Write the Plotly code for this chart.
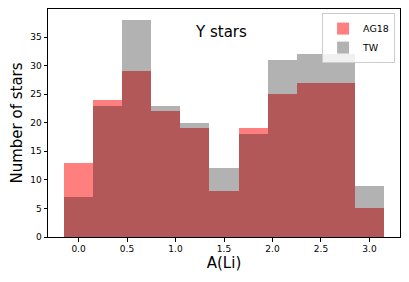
import plotly.graph_objects as go

# bin centres of A(Li) histogram, bin width 0.3
bin_centers = [0.0, 0.3, 0.6, 0.9, 1.2, 1.5, 1.8, 2.1, 2.4, 2.7, 3.0]
bin_width = 0.3
ag18_counts = [13, 24, 29, 22, 19, 8, 19, 25, 27, 27, 5]
tw_counts = [7, 23, 38, 23, 20, 12, 18, 31, 32, 32, 9]

font = "DejaVu Sans"

fig = go.Figure()
fig.add_trace(go.Bar(x=bin_centers, y=ag18_counts, width=bin_width, name="AG18",
                     marker=dict(color="rgba(255,0,0,0.5)", line=dict(width=0))))
fig.add_trace(go.Bar(x=bin_centers, y=tw_counts, width=bin_width, name="TW",
                     marker=dict(color="rgba(0,0,0,0.3)", line=dict(width=0))))

fig.add_annotation(x=1.47, y=35.8, text="Y stars", showarrow=False,
                   font=dict(size=15, color="black", family=font))

# page body has an 8px margin, so the figure is a bit smaller than the window
fig.update_layout(
    width=401, height=274,
    barmode="overlay", bargap=0,
    margin=dict(l=40, r=9, t=1, b=45, autoexpand=False),
    plot_bgcolor="white", paper_bgcolor="white",
    font=dict(family=font, color="black"),
    legend=dict(x=0.986, y=0.982, xanchor="right", yanchor="top",
                bordercolor="#cccccc", borderwidth=1, bgcolor="rgba(255,255,255,0.8)",
                font=dict(size=9.5), itemwidth=30, tracegroupgap=0),
)
fig.update_xaxes(range=[-0.315, 3.315], tickvals=[0, 0.5, 1.0, 1.5, 2.0, 2.5, 3.0],
                 ticktext=["0.0", "0.5", "1.0", "1.5", "2.0", "2.5", "3.0"],
                 ticks="outside", ticklen=3.5, tickcolor="black", tickfont=dict(size=9),
                 showline=True, linecolor="black", linewidth=1, mirror=True,
                 showgrid=False, zeroline=False, automargin=False,
                 title=dict(text="A(Li)", font=dict(size=15), standoff=4))
fig.update_yaxes(range=[0, 39.9], tickvals=[0, 5, 10, 15, 20, 25, 30, 35],
                 ticks="outside", ticklen=3.5, tickcolor="black", tickfont=dict(size=9),
                 showline=True, linecolor="black", linewidth=1, mirror=True,
                 showgrid=False, zeroline=False, automargin=False,
                 title=dict(text="Number of stars", font=dict(size=15), standoff=6))

fig.write_html("out.html")
